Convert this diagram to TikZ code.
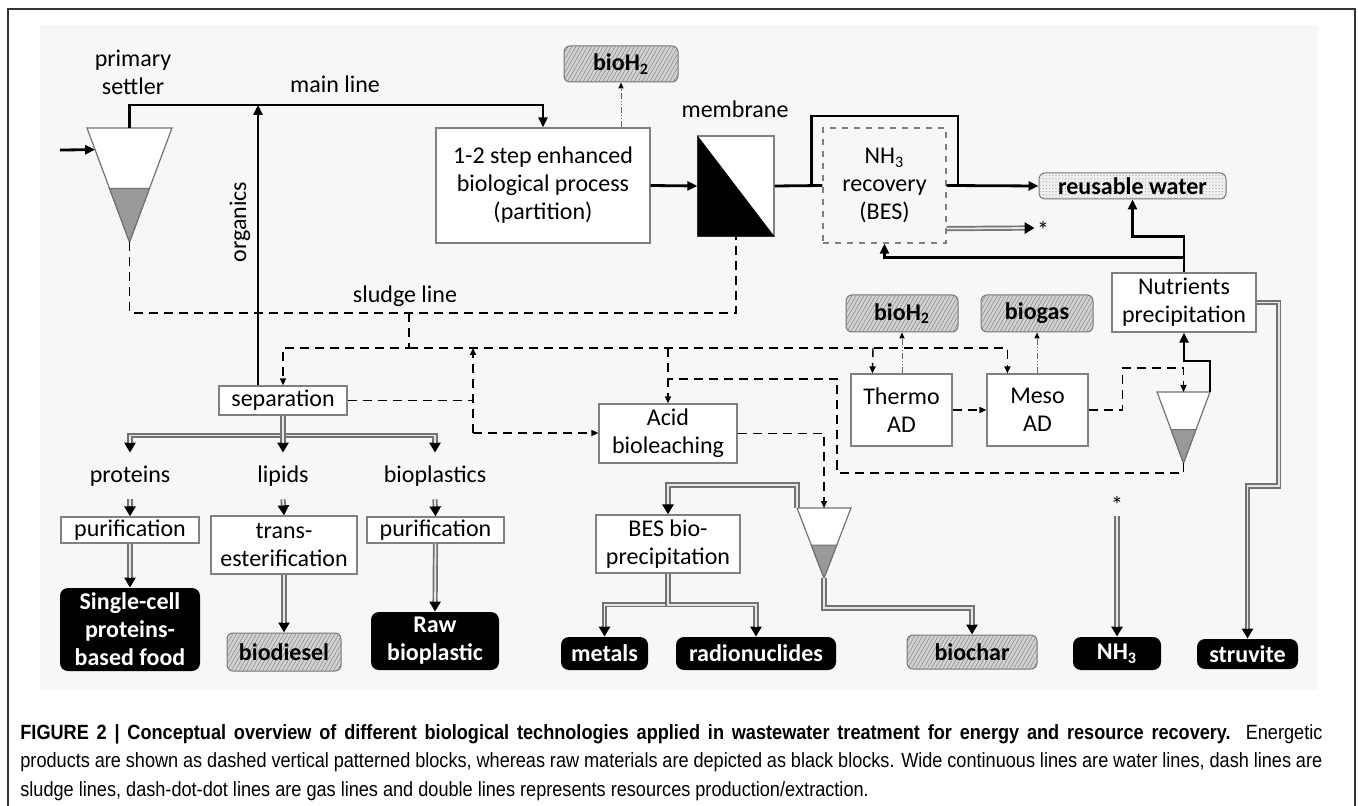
\documentclass[tikz,border=0pt]{standalone}
\usepackage{fontspec}
\setmainfont{Carlito}
\newfontfamily\capfont[FakeStretch=0.88]{Liberation Sans}
\usetikzlibrary{arrows.meta,calc,patterns.meta}

% settler: name, centre x, top y, half width, height
\newcommand{\settler}[5]{%
  \coordinate (#1-l) at ({#2-#4},#3);
  \coordinate (#1-r) at ({#2+#4},#3);
  \coordinate (#1-t) at (#2,#3);
  \coordinate (#1-a) at (#2,{#3+#5});
  \draw[tank] (#1-l) -- (#1-r) -- (#1-a) -- cycle;
  \filldraw[tank, fill=black!40] ($(#1-l)!0.53!(#1-a)$) -- ($(#1-r)!0.53!(#1-a)$) -- (#1-a) -- cycle;
}

\begin{document}
\begin{tikzpicture}[
  x=0.5pt, y=-0.5pt,
  font=\fontsize{12}{14}\selectfont,
  box/.style={draw=black!50, line width=0.6pt, fill=white, align=center, inner sep=1pt},
  prodbase/.style={draw=black!55, line width=0.5pt, rounded corners=3pt,
               font=\fontsize{12}{14}\selectfont\bfseries, inner sep=1pt},
  prod/.style={prodbase, fill=gray!35,
               postaction={pattern={Lines[angle=60,distance=1.7pt,line width=0.3pt]}, pattern color=black!45}},
  wprod/.style={prodbase, fill=gray!12,
               postaction={pattern={Dots[distance=1.6pt,radius=0.3pt]}, pattern color=black!35}},
  raw/.style={fill=black, rounded corners=4pt, text=white, align=center,
              font=\fontsize{12}{14}\selectfont\bfseries, inner sep=1pt},
  tank/.style={draw=black!55, line width=0.6pt, fill=white},
  lbl/.style={inner sep=1pt, align=center},
  frac/.style={inner sep=0pt, minimum height=23pt},
  water/.style={draw=black, line width=1.4pt, -{Triangle[length=5pt,width=4.5pt]}},
  sludge/.style={draw=black, line width=0.7pt, dash pattern=on 4.5pt off 3pt,
                 -{Triangle[length=3.5pt,width=3pt]}},
  gas/.style={draw=black!60, line width=0.5pt,
              dash pattern=on 3pt off 1pt on 0.6pt off 1pt on 0.6pt off 1pt,
              -{Triangle[length=3pt,width=2.6pt,color=black]}},
  res/.style={draw=black!55, line width=2.6pt, -{Triangle[length=5pt,width=5.5pt,color=black]},
              postaction={draw=black!10, line width=0.9pt, arrows=-, shorten >=5pt}},
]
\useasboundingbox (0,0) rectangle (1358,806);

% ---------------- frame and figure area ----------------
\draw[black!80, line width=0.8pt] (8,806) -- (8,9) -- (1355,9) -- (1355,806);
\fill[black!3] (40,25) rectangle (1318,690);

% ---------------- main line (top) ----------------
\settler{s1}{129.5}{128}{42.5}{114}
\node[lbl] (pslab) at (133,72) {primary\\settler};
\node[lbl] (mllab) at (335,84) {main line};
\node[box, minimum width=107pt, minimum height=57.5pt] (bio) at (543,185.5)
  {1-2 step enhanced\\ biological process\\ (partition)};
\node[prod, minimum width=57pt, minimum height=18pt] (h2a) at (621,64) {bioH\textsubscript{2}};
\node[box, minimum width=38pt, minimum height=50pt, inner sep=0pt] (mem) at (736,186) {};
\fill (mem.north west) -- (mem.south west) -- (mem.south east) -- cycle;
\node[lbl] (memlab) at (735,109) {membrane};
\node[box, dashed, fill=none, minimum width=61.5pt, minimum height=57.5pt] (nh3r) at (884.5,185.5)
  {NH\textsubscript{3}\\ recovery\\ (BES)};
\node[wprod, minimum width=93.5pt, minimum height=13pt] (water) at (1132.5,186) {reusable water};
\node[box, minimum width=72pt, minimum height=29.5pt] (nutr) at (1184,302.5) {Nutrients\\ precipitation};
\node[lbl] (star1) at (1043,230) {*};

% ---------------- sludge line boxes ----------------
\node[lbl] (sllab) at (405,296) {sludge line};
\node[box, minimum width=64pt, minimum height=14.5pt] (sep) at (283,400.5) {separation};
\node[box, minimum width=69pt, minimum height=29.5pt] (acid) at (668,433.5) {Acid\\ bioleaching};
\node[box, minimum width=50.5pt, minimum height=36pt] (thermo) at (901.5,410) {Thermo\\ AD};
\node[box, minimum width=50.5pt, minimum height=36pt] (meso) at (1037.5,410) {Meso\\ AD};
\node[prod, minimum width=56pt, minimum height=18.5pt] (h2b) at (902,313.5) {bioH\textsubscript{2}};
\node[prod, minimum width=56pt, minimum height=18.5pt] (biogas) at (1037,313.5) {biogas};
\settler{s2}{1183.5}{392}{26.5}{71}
\settler{s3}{824}{508}{27}{70}
\node[box, minimum width=72pt, minimum height=29pt] (bespp) at (668,544) {BES bio-\\ precipitation};

% ---------------- separated fractions ----------------
\node[frac] (prot) at (130,476) {proteins};
\node[frac] (lip) at (283,476) {lipids};
\node[frac] (bpl) at (435,476) {bioplastics};
\node[box, minimum width=69pt, minimum height=13pt] (pur1) at (130,530) {purification};
\node[box, minimum width=73pt, minimum height=29pt] (trans) at (284,545) {trans-\\ esterification};
\node[box, minimum width=68.5pt, minimum height=13pt] (pur2) at (435.5,530) {purification};

% ---------------- products ----------------
\node[raw, minimum width=70pt, minimum height=41.5pt] (scp) at (130,629.5) {Single-cell\\ proteins-\\ based food};
\node[prod, minimum width=57pt, minimum height=19pt] (diesel) at (284,652) {biodiesel};
\node[raw, minimum width=64pt, minimum height=29pt] (rawbp) at (435,641) {Raw\\ bioplastic};
\node[raw, minimum width=43.5pt, minimum height=16.5pt] (metals) at (604.5,653.5) {metals};
\node[raw, minimum width=80pt, minimum height=16.5pt] (radio) at (756,653.5) {radionuclides};
\node[prod, minimum width=65pt, minimum height=17pt] (biochar) at (972,652) {biochar};
\node[raw, minimum width=44pt, minimum height=16.5pt] (nh3) at (1117,653.5) {NH\textsubscript{3}};
\node[raw, minimum width=50.5pt, minimum height=15pt] (struv) at (1247.5,654) {struvite};
\node[lbl] (star2) at (1117,505) {*};

% ---------------- water lines ----------------
\coordinate (inlet) at (60,150);
\coordinate (org) at (258,105);
\coordinate (bp) at (958,116);
\draw[water] (inlet) -- ($(s1-l)!0.19!(s1-a)$);
\draw[water] (s1-t) -- ++(0,-23) -| (bio.north);
\draw[water] (sep.north -| org) -- (org);
\node[lbl, rotate=90] (orglab) at (240,222) {organics};
\draw[water] (bio.east) -- (mem.west);
\draw[water,-] (mem.east) -- (nh3r.west);
\draw[water,-] ($(mem.east)!0.78!(nh3r.west)$) |- (bp) -- (bp |- water.west);
\draw[water] (nh3r.east) -- (water.west);
\draw[water] (nutr.north) -- ++(0,-36) -| (water.south);
\draw[water] ($(nutr.north)+(0,-15)$) -| (nh3r.south);
\draw[water] (s2-r) -- ++(0,-31) -| (nutr.south);

% ---------------- sludge lines ----------------
\coordinate (sl) at (736,313);
\coordinate (sj) at (409,313);
\coordinate (rj) at (473,433);
\draw[sludge,-] (s1-a) |- (sl) -- (mem.south);
\draw[sludge] (sj) -- (409,348) -| (sep.north);
\draw[sludge] (409,348) -| ($(meso.north west)+(21,0)$);
\draw[sludge] (873,348) -- ($(thermo.north west)+(22,0)$);
\draw[sludge] (668,348) -- (acid.north);
\draw[sludge,-] (sep.east) -- (sep.east -| rj);
\draw[sludge] (rj) -- (473,348);
\draw[sludge] (rj) -- (rj -| acid.west);
\draw[sludge,-] (s2-a) |- (837,473) |- (668,379);
\draw[sludge] (acid.east) -| (s3-t);
\draw[sludge] (thermo.east) -- (meso.west);
\draw[sludge] (meso.east) -- ++(34,0) |- ($(s2-t)+(0,-24)$) -- (s2-t);

% ---------------- gas lines ----------------
\draw[gas] (h2a.south |- bio.north) -- (h2a.south);
\draw[gas] (h2b.south |- thermo.north) -- (h2b.south);
\draw[gas] (biogas.south |- meso.north) -- (biogas.south);

% ---------------- resource lines ----------------
\draw[res] (sep.south) -- ++(0,20) -| (prot.north);
\draw[res] (sep.south) -- ++(0,20) -| (bpl.north);
\draw[res] (sep.south) -- (lip.north);
\draw[res] (prot.south) -- (pur1.north);
\draw[res] (lip.south) -- (trans.north);
\draw[res] (bpl.south) -- (pur2.north);
\draw[res] (pur1.south) -- (scp.north);
\draw[res] (trans.south) -- (diesel.north);
\draw[res] (pur2.south) -- (rawbp.north);
\draw[res] (s3-l) -- ++(0,-23) -| (bespp.north);
\draw[res] (bespp.south) -- ++(0,31) -| (metals.north);
\draw[res] (bespp.south) -- ++(0,31) -| (radio.north);
\draw[res] (s3-a) -- ++(0,30) -| (biochar.north);
\draw[res] ($(nh3r.south east)+(0,-15)$) -- (star1.west |- 0,228);
\draw[res] (star2.south) -- (nh3.north);
\draw[res] (nutr.east) -- ++(22,0) -- ++(0,183.5) -| (struv.north);

% ---------------- caption ----------------
\node[anchor=north west, inner sep=0pt] (cap) at (20,724) {\parbox{651pt}{\capfont\fontsize{10.3}{14.2}\selectfont
  \textbf{FIGURE 2 | Conceptual overview of different biological technologies applied in wastewater treatment for energy and resource recovery.} Energetic\linebreak
  products are shown as dashed vertical patterned blocks, whereas raw materials are depicted as black blocks. Wide continuous lines are water lines, dash lines are\linebreak
  sludge lines, dash-dot-dot lines are gas lines and double lines represents resources production/extraction.}};

\end{tikzpicture}
\end{document}
